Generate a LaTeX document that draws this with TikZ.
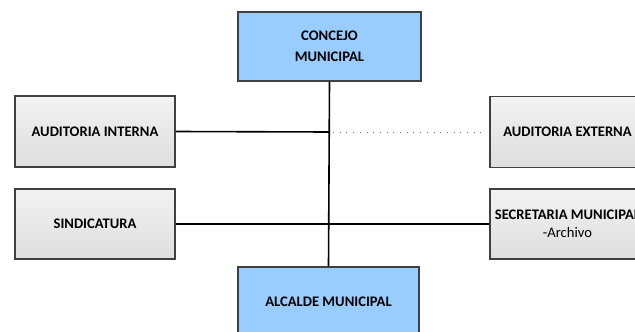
\documentclass[tikz,border=0pt]{standalone}
\usepackage{fontspec}
\setmainfont{Carlito}
\begin{document}
\begin{tikzpicture}[x=1pt,y=-1pt,
  box/.style={draw=black!75, line width=1.6pt, rectangle, inner sep=0pt, align=center,
    font=\fontsize{14.6}{18}\selectfont\bfseries},
  graybox/.style={box, top color=white!95!black, bottom color=black!13},
  bluebox/.style={box, fill=blueorg},
  link/.style={line width=1.6pt, black},
  dotlink/.style={line width=0.9pt, black!55, dash pattern=on 0.9pt off 5.8pt}]
\definecolor{blueorg}{HTML}{99CCFF}
\useasboundingbox (0,0) rectangle (635,332);
\clip (0,0) rectangle (635,332);
\node[bluebox, minimum width=183pt, minimum height=69pt, font=\fontsize{14.6}{21}\selectfont\bfseries] (cm) at (329.5,46.5) {CONCEJO\\MUNICIPAL};
\node[graybox, minimum width=160pt, minimum height=71pt] (ai) at (95,131.5) {AUDITORIA INTERNA};
\node[graybox, minimum width=155pt, minimum height=71pt] (ae) at (567.5,132) {AUDITORIA EXTERNA};
\node[graybox, minimum width=160pt, minimum height=70pt] (si) at (95,224) {SINDICATURA};
\node[graybox, minimum width=155pt, minimum height=70pt] (se) at (567.5,224) {SECRETARIA MUNICIPAL\\{\mdseries -Archivo}};
\node[bluebox, minimum width=181pt, minimum height=70pt] (al) at (328.5,302) {ALCALDE MUNICIPAL};
\coordinate (t1) at (329,132);
\draw[link] (cm.south) -- (al.north);
\draw[link] (ai.east) -- (t1);
\draw[dotlink] ([xshift=4pt]t1) -- ([xshift=-6pt]ae.west);
\draw[link] (si.east) -- (se.west);
\end{tikzpicture}
\end{document}
